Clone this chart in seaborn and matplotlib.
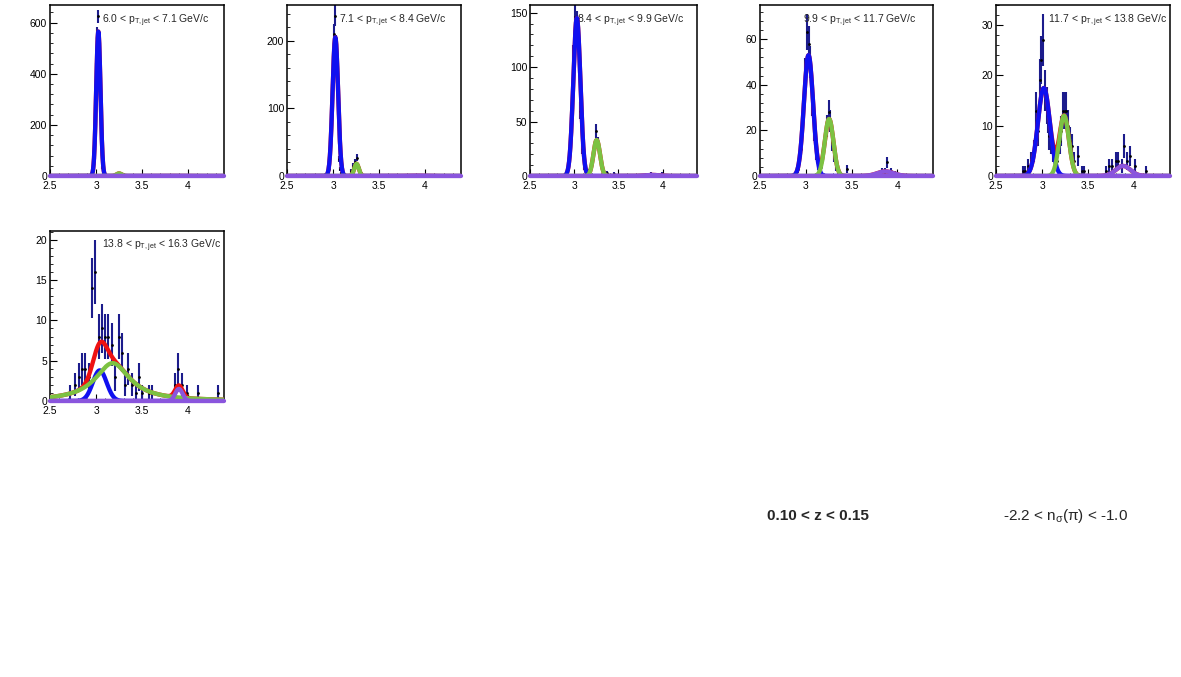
import numpy as np
import pandas as pd
import seaborn as sns
import matplotlib.pyplot as plt
from matplotlib.ticker import MultipleLocator, AutoMinorLocator, FuncFormatter

# pT,jet bin edges (one panel per bin)
pt_lo = ["6.0", "7.1", "8.4", "9.9", "11.7", "13.8"]
pt_hi = ["7.1", "8.4", "9.9", "11.7", "13.8", "16.3"]

# histogram contents (bin centres / counts)
x1 = [2.96, 2.97, 2.98, 2.99, 3.00, 3.01, 3.02, 3.03, 3.04, 3.05, 3.06, 3.07, 3.08,
      3.22, 3.24, 3.26, 3.28]
y1 = [4, 25, 90, 230, 420, 560, 625, 540, 390, 230, 100, 35, 10,
      5, 11, 9, 4]

x2 = [2.96, 2.97, 2.98, 2.99, 3.00, 3.01, 3.02, 3.03, 3.04, 3.05, 3.06, 3.07, 3.08, 3.09,
      3.20, 3.22, 3.24, 3.26, 3.28, 3.30]
y2 = [10, 30, 70, 125, 175, 210, 237, 195, 150, 100, 55, 25, 10, 4,
      8, 15, 20, 27, 12, 4]

x3 = [2.91, 2.93, 2.95, 2.97, 2.99, 3.01, 3.03, 3.05, 3.07, 3.09, 3.11, 3.13,
      3.17, 3.19, 3.21, 3.23, 3.25, 3.27, 3.29, 3.31, 3.33, 3.37, 3.45, 3.83, 3.87, 3.91, 3.99]
y3 = [3, 6, 22, 60, 110, 146, 140, 105, 60, 25, 8, 3,
      4, 10, 18, 28, 41, 30, 18, 8, 3, 3, 2, 1, 2, 1, 2]

x4 = [2.89, 2.91, 2.93, 2.95, 2.97, 2.99, 3.01, 3.03, 3.05, 3.07, 3.09, 3.11, 3.13, 3.15,
      3.17, 3.19, 3.21, 3.23, 3.25, 3.27, 3.29, 3.31, 3.33, 3.35, 3.45,
      3.79, 3.83, 3.87, 3.89, 3.93, 3.97]
y4 = [1, 3, 6, 12, 27, 45, 63, 58, 50, 32, 20, 10, 5, 3,
      4, 9, 16, 22, 28, 24, 15, 9, 4, 2, 3,
      1, 2, 2, 6, 2, 1]

x5 = [2.79, 2.82, 2.85, 2.885, 2.91, 2.935, 2.955, 2.975, 2.99, 3.01, 3.03, 3.05, 3.065,
      3.08, 3.10, 3.12, 3.145, 3.165, 3.19, 3.21, 3.23, 3.245, 3.26, 3.28, 3.30, 3.325,
      3.35, 3.39, 3.43, 3.46, 3.70, 3.73, 3.76, 3.80, 3.83, 3.87, 3.89, 3.92, 3.96, 4.01, 4.13]
y5 = [1, 1, 2, 3, 5, 13, 9, 19, 23, 27, 17, 14, 12,
      8, 7, 5, 4, 3, 7, 9, 13, 13, 13, 10, 7, 6,
      3, 4, 1, 1, 1, 2, 2, 3, 3, 2, 6, 3, 4, 2, 1]

x6 = [2.72, 2.77, 2.81, 2.85, 2.88, 2.92, 2.955, 2.99, 3.03, 3.065, 3.10, 3.135, 3.17,
      3.21, 3.245, 3.28, 3.315, 3.35, 3.39, 3.43, 3.465, 3.50, 3.57, 3.61,
      3.86, 3.895, 3.93, 3.99, 4.11, 4.32]
y6 = [1, 2, 3, 4, 4, 3, 14, 16, 8, 9, 8, 8, 7,
      3, 8, 6, 2, 4, 2, 1, 3, 1, 1, 1,
      2, 4, 2, 1, 1, 1]

hist_x = [x1, x2, x3, x4, x5, x6]
hist_y = [y1, y2, y3, y4, y5, y6]

# fitted components: (amplitude, mean, width, shape)
blue_fit = [(565, 3.025, 0.023, "g"), (205, 3.025, 0.03, "g"), (145, 3.03, 0.04, "g"),
            (53, 3.03, 0.05, "g"), (17.5, 3.02, 0.065, "g"), (3.8, 3.04, 0.075, "g")]
green_fit = [(10, 3.25, 0.028, "g"), (18, 3.255, 0.025, "g"), (33, 3.255, 0.037, "g"),
             (25, 3.255, 0.047, "g"), (12, 3.24, 0.052, "g"), (4.7, 3.18, 0.23, "l")]
purple_fit = [(0.5, 3.88, 0.08, "g"), (0.5, 3.88, 0.08, "g"), (1.0, 3.88, 0.08, "g"),
              (2.0, 3.87, 0.09, "g"), (2.0, 3.88, 0.08, "g"), (1.5, 3.90, 0.04, "g")]

y_top = [669, 253, 157, 75, 34, 21.1]
y_step = [200, 100, 50, 20, 10, 5]

# axes boxes in pixels: left, top, right, bottom
boxes = [(50, 5, 224, 176), (287, 5, 461, 176), (530, 5, 697, 176),
         (760, 5, 933, 176), (996, 5, 1170, 176), (50, 231, 224, 401)]
label_x = [0.30, 0.30, 0.28, 0.25, 0.30, 0.30]

C_ERR = "#1c1c8c"
C_RED = "#ee1111"
C_BLUE = "#1010f0"
C_GREEN = "#7cc242"
C_PURPLE = "#8a55dd"

sns.set_theme(style="ticks")
plt.rcParams["font.family"] = ["Liberation Sans", "DejaVu Sans"]
plt.rcParams["mathtext.fontset"] = "custom"
plt.rcParams["mathtext.rm"] = "Liberation Sans"
plt.rcParams["mathtext.it"] = "Liberation Sans:italic"

W, H = 1181, 677
fig = plt.figure(figsize=(W / 100, H / 100), dpi=100)

XMIN, XMAX = 2.5, 4.39
xf = np.linspace(XMIN, XMAX, 800)


def component(x, p):
    amp, mu, w, kind = p
    if kind == "l":
        return amp / (1 + ((x - mu) / w) ** 2)
    return amp * np.exp(-0.5 * ((x - mu) / w) ** 2)


for i in range(6):
    l, t, r, b = boxes[i]
    ax = fig.add_axes([l / W, 1 - b / H, (r - l) / W, (b - t) / H])

    hx = np.array(hist_x[i], dtype=float)
    hy = np.array(hist_y[i], dtype=float)
    err = np.sqrt(hy)
    ax.vlines(hx, hy - err, hy + err, color=C_ERR, lw=1.5, zorder=2)
    sns.scatterplot(x=hx, y=hy, ax=ax, color="black", s=4, marker="o",
                    linewidth=0, zorder=3)

    fb = component(xf, blue_fit[i])
    fg = component(xf, green_fit[i])
    fp = component(xf, purple_fit[i])
    curves = pd.DataFrame({"x": xf, "red": fb + fg + fp, "blue": fb,
                           "green": fg, "purple": fp, "flat": np.zeros_like(xf)})
    for col, c, z in [("red", C_RED, 4), ("blue", C_BLUE, 5), ("green", C_GREEN, 6),
                      ("purple", C_PURPLE, 7)]:
        sns.lineplot(data=curves, x="x", y=col, ax=ax, color=c, lw=3.1, zorder=z)
    sns.lineplot(data=curves, x="x", y="flat", ax=ax, color=C_PURPLE, lw=3.1,
                 zorder=8, clip_on=False)

    ax.set_xlim(XMIN, XMAX)
    ax.set_ylim(0, y_top[i])
    ax.set_xlabel("")
    ax.set_ylabel("")
    ax.xaxis.set_major_locator(MultipleLocator(0.5))
    ax.xaxis.set_minor_locator(AutoMinorLocator(5))
    ax.yaxis.set_major_locator(MultipleLocator(y_step[i]))
    ax.yaxis.set_minor_locator(AutoMinorLocator(5))
    ax.xaxis.set_major_formatter(FuncFormatter(lambda v, p: f"{v:g}"))
    ax.yaxis.set_major_formatter(FuncFormatter(lambda v, p: f"{v:g}"))
    ax.tick_params(which="major", direction="in", length=5, width=0.8,
                   labelsize=7.5, pad=2, colors="black")
    ax.tick_params(axis="x", which="major", pad=3.5)
    ax.tick_params(which="minor", direction="in", length=2.5, width=0.7)
    for s in ax.spines.values():
        s.set_visible(True)
        s.set_linewidth(1.1)
        s.set_color("black")

    ax.text(label_x[i], 0.91,
            pt_lo[i] + r" < p$_{\mathrm{T,jet}}$ < " + pt_hi[i] + " GeV/c",
            transform=ax.transAxes, fontsize=7.5, ha="left", va="center")

fig.text(767 / W, 1 - 516 / H, "0.10 < z < 0.15", fontsize=11,
         fontweight="bold", ha="left", va="center")
fig.text(1003 / W, 1 - 516 / H, r"-2.2 < n$_{\mathrm{σ}}$(π) < -1.0",
         fontsize=11, ha="left", va="center")

fig.savefig("out.png", dpi=100, facecolor="white")
